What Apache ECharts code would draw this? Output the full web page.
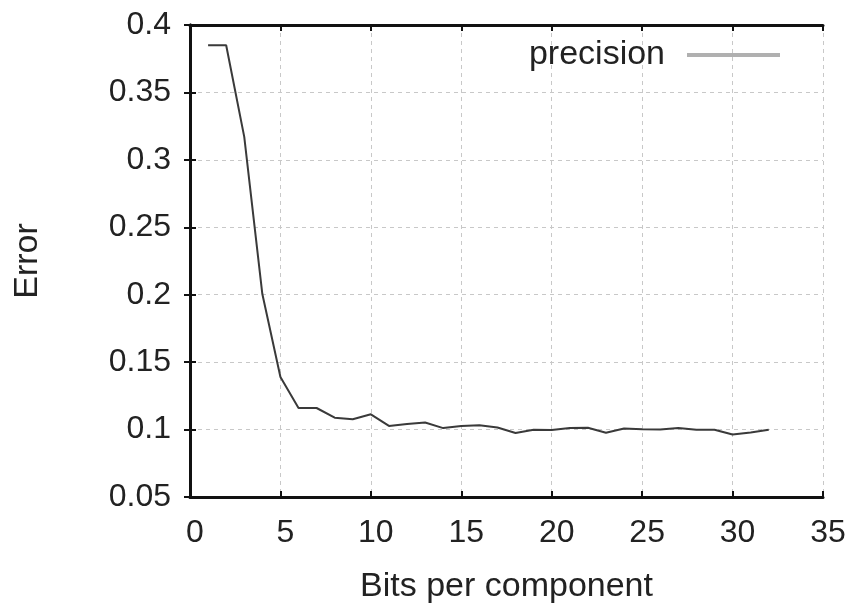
<!DOCTYPE html>
<html>
<head>
<meta charset="utf-8">
<script src="https://cdn.jsdelivr.net/npm/echarts@6/dist/echarts.min.js"></script>
<style>html,body{margin:0;padding:0;background:#fff}#c{width:852px;height:609px}</style>
</head>
<body>
<div id="c"></div>
<script>
const bits = [1,2,3,4,5,6,7,8,9,10,11,12,13,14,15,16,17,18,19,20,21,22,23,24,25,26,27,28,29,30,31,32];
const precisionError = [0.385,0.385,0.317,0.2005,0.139,0.116,0.116,0.1088,0.1076,0.1113,0.1027,0.1042,0.1052,0.1011,0.1027,0.1032,0.1015,0.0974,0.0998,0.0996,0.1011,0.1013,0.0976,0.1008,0.1003,0.1001,0.1011,0.0998,0.0998,0.0964,0.0979,0.0998];
const xTitle = 'Bits per component';
const yTitle = 'Error';
const seriesName = 'precision';

const font = 'Liberation Sans';
const fsTick = 32;
const fsName = 34;
const chart = echarts.init(document.getElementById('c'), null, {renderer:'canvas'});
const axisLineStyle = {color:'#111', width:3};
const gridLine = {show:true, lineStyle:{color:'#c8c8c8', type:[4,4], width:1}};
chart.setOption({
  animation:false,
  grid:{left:190, right:29, top:25, bottom:107},
  legend:{
    right:67, top:33, align:'right', itemWidth:93, itemHeight:4, itemGap:10,
    textStyle:{fontFamily:font, fontSize:fsName, color:'#222', padding:[0,17,0,0]},
    data:[{name:seriesName, icon:'rect', itemStyle:{color:'#b0b0b0'}}]
  },
  xAxis:[{
    type:'value', min:0, max:35, interval:5,
    name:xTitle, nameLocation:'middle', nameGap:73,
    nameTextStyle:{fontFamily:font, fontSize:fsName, color:'#222'},
    axisLine:{show:true, lineStyle:axisLineStyle},
    axisTick:{show:true, inside:true, length:6, lineStyle:{color:'#111', width:2}},
    axisLabel:{fontFamily:font, fontSize:fsTick, color:'#222', margin:20, padding:[0,0,0,10]},
    splitLine:gridLine
  },{
    type:'value', min:0, max:35, interval:5, position:'top',
    axisLine:{show:true, lineStyle:axisLineStyle},
    axisTick:{show:true, inside:true, length:6, lineStyle:{color:'#111', width:2}},
    axisLabel:{show:false}, splitLine:{show:false}
  }],
  yAxis:[{
    type:'value', min:0.05, max:0.4, interval:0.05,
    name:yTitle, nameLocation:'middle', nameGap:145, nameRotate:90,
    nameTextStyle:{fontFamily:font, fontSize:fsName, color:'#222'},
    axisLine:{show:true, lineStyle:axisLineStyle},
    axisTick:{show:true, inside:true, length:6, lineStyle:{color:'#111', width:2}},
    axisLabel:{fontFamily:font, fontSize:fsTick, color:'#222', margin:19,
      formatter:v=>String(Math.round(v*100)/100)},
    splitLine:gridLine
  },{
    type:'value', min:0.05, max:0.4, interval:0.05, position:'right',
    axisLine:{show:true, lineStyle:axisLineStyle},
    axisTick:{show:true, inside:true, length:6, lineStyle:{color:'#111', width:2}},
    axisLabel:{show:false}, splitLine:{show:false}
  }],
  series:[{
    name:seriesName, type:'line', symbol:'none', showSymbol:false,
    data:bits.map((b,i)=>[b, precisionError[i]]),
    lineStyle:{color:'#3a3a3a', width:2}, itemStyle:{color:'#b0b0b0'}
  }]
});
</script>
</body>
</html>
